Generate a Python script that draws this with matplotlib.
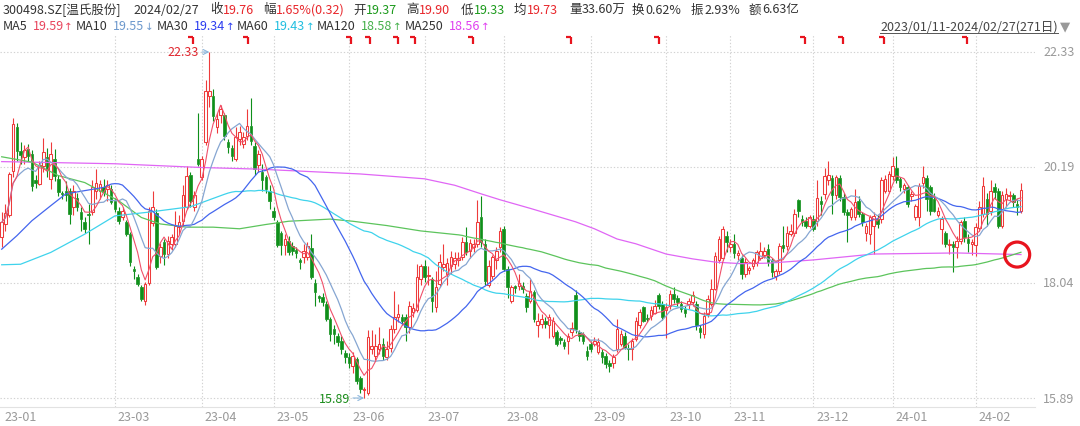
import numpy as np
import pandas as pd
import matplotlib
matplotlib.use("Agg")
import matplotlib.pyplot as plt
from matplotlib.patches import Rectangle, Ellipse
from matplotlib.lines import Line2D
from matplotlib.transforms import blended_transform_factory

plt.rcParams['font.family'] = ['Noto Sans CJK SC', 'DejaVu Sans']

# ---------------- data ----------------
opens = [18.88, 19.13, 19.30, 20.12, 20.93, 20.48, 20.38, 20.52, 20.43, 19.95,
         19.87, 20.21, 20.38, 19.97, 20.34, 19.97, 19.70, 19.75, 19.75, 19.44,
         19.62, 19.35, 19.16, 19.32, 19.35, 19.75, 19.75, 19.82, 19.78, 19.78,
         19.56, 19.38, 19.25, 19.16, 18.94, 18.30, 18.14, 17.96, 17.69, 18.04,
         19.15, 19.33, 18.54, 18.80, 18.57, 18.76, 18.76, 19.08, 19.19, 19.44,
         20.04, 19.44, 20.34, 20.00, 20.65, 21.52, 21.52, 20.94, 21.15, 21.15,
         20.65, 20.55, 20.34, 20.71, 20.62, 20.77, 20.96, 20.58, 20.22, 20.09,
         20.00, 19.75, 19.38, 19.16, 18.97, 18.73, 18.82, 18.72, 18.64, 18.46,
         18.51, 18.51, 18.69, 18.04, 17.79, 17.77, 17.64, 17.36, 17.18, 17.05,
         16.96, 16.72, 16.65, 16.49, 16.61, 16.27, 16.04, 15.99, 16.80, 16.68,
         16.80, 16.90, 16.65, 16.83, 17.18, 17.39, 17.39, 17.39, 17.21, 17.49,
         17.52, 18.11, 18.35, 18.16, 18.10, 17.58, 18.01, 18.32, 18.20, 18.35,
         18.38, 18.45, 18.52, 18.79, 18.62, 18.70, 18.75, 19.25, 18.76, 18.00,
         18.17, 18.45, 18.70, 19.04, 18.29, 17.70, 17.97, 17.98, 17.98, 17.79,
         17.70, 17.86, 17.24, 17.27, 17.33, 17.24, 17.05, 17.11, 17.00, 16.93,
         16.96, 17.11, 17.80, 17.11, 17.08, 16.77, 16.89, 16.90, 16.74, 16.74,
         16.68, 16.55, 16.55, 16.80, 16.90, 17.05, 16.83, 16.80, 16.99, 17.24,
         17.58, 17.38, 17.42, 17.48, 17.80, 17.64, 17.52, 17.61, 17.83, 17.76,
         17.64, 17.55, 17.64, 17.67, 17.64, 17.20, 17.08, 17.45, 17.64, 17.92,
         18.45, 18.50, 18.91, 18.70, 18.76, 18.56, 18.50, 18.20, 18.28, 18.35,
         18.40, 18.50, 18.55, 18.66, 18.45, 18.17, 18.26, 18.73, 18.72, 18.95,
         18.97, 19.58, 19.22, 19.19, 19.10, 19.22, 19.19, 19.56, 19.69, 19.94,
         19.99, 19.66, 19.99, 19.63, 19.35, 19.25, 19.25, 19.56, 19.31, 18.97,
         18.94, 19.10, 19.22, 19.22, 19.75, 19.75, 20.03, 20.18, 19.97, 19.78,
         19.81, 19.65, 19.25, 19.25, 19.90, 19.99, 19.81, 19.60, 19.30, 19.04,
         18.97, 18.74, 18.76, 18.70, 18.82, 19.19, 18.85, 18.76, 18.73, 19.05,
         19.31, 19.60, 19.38, 19.82, 19.75, 19.10, 19.60, 19.65, 19.66, 19.50, 19.37]

highs = [19.35, 19.50, 20.10, 21.10, 21.00, 20.65, 20.60, 20.62, 20.50, 20.05,
         20.30, 20.73, 20.55, 20.65, 20.52, 20.05, 19.75, 19.93, 19.80, 19.85,
         19.70, 19.45, 19.25, 19.50, 19.95, 20.15, 19.95, 19.97, 19.95, 19.85,
         19.62, 19.45, 19.45, 19.20, 18.98, 18.35, 18.20, 18.00, 18.05, 19.44,
         19.75, 19.40, 18.78, 18.85, 18.90, 18.95, 19.38, 19.30, 19.85, 20.21,
         20.10, 19.75, 21.20, 20.40, 21.80, 22.33, 21.65, 21.20, 21.35, 21.20,
         20.72, 20.60, 20.93, 20.95, 20.85, 21.27, 21.48, 20.65, 20.50, 20.25,
         20.05, 19.85, 19.45, 19.20, 19.00, 18.95, 18.90, 18.80, 18.70, 18.50,
         18.75, 18.80, 18.95, 18.10, 17.80, 17.85, 17.70, 17.40, 17.25, 17.10,
         17.05, 16.78, 16.72, 16.75, 16.65, 16.30, 16.10, 17.15, 17.15, 17.08,
         17.22, 17.00, 16.96, 17.25, 17.89, 17.64, 17.45, 17.45, 17.70, 17.65,
         18.39, 18.39, 18.45, 18.35, 18.15, 18.25, 18.57, 18.76, 18.50, 18.63,
         18.60, 18.60, 18.88, 19.07, 18.85, 18.85, 19.57, 19.65, 18.85, 18.45,
         18.55, 18.70, 19.08, 19.10, 18.35, 18.00, 18.00, 18.20, 18.05, 17.85,
         18.10, 17.90, 17.48, 17.45, 17.40, 17.45, 17.40, 17.15, 17.05, 16.98,
         17.10, 17.30, 17.90, 17.15, 17.12, 16.85, 16.95, 17.02, 17.00, 16.80,
         16.72, 16.60, 16.70, 17.36, 17.15, 17.12, 16.90, 17.00, 17.40, 17.55,
         17.60, 17.45, 17.60, 17.72, 17.85, 17.70, 17.65, 17.90, 17.95, 17.80,
         17.70, 17.60, 17.75, 17.88, 17.70, 17.25, 17.50, 17.80, 18.10, 18.60,
         18.90, 19.10, 19.00, 18.85, 18.95, 18.65, 18.55, 18.50, 18.35, 18.50,
         18.65, 18.80, 18.70, 18.75, 18.50, 18.30, 18.78, 19.10, 19.10, 19.13,
         19.40, 19.60, 19.30, 19.25, 19.30, 19.30, 19.94, 19.65, 20.17, 20.30,
         20.05, 20.05, 20.05, 19.70, 19.40, 19.45, 19.78, 19.65, 19.35, 19.15,
         19.30, 19.35, 19.30, 20.00, 20.05, 20.12, 20.38, 20.40, 20.00, 19.90,
         19.85, 19.75, 19.50, 19.90, 20.20, 20.05, 19.85, 19.70, 19.45, 19.28,
         19.00, 18.85, 18.82, 18.90, 19.20, 19.25, 18.95, 18.85, 19.15, 19.55,
         20.00, 19.70, 19.94, 19.90, 19.80, 19.75, 19.80, 19.75, 19.70, 19.60, 19.90]

lows = [18.70, 19.00, 19.25, 20.00, 20.30, 20.25, 20.25, 20.30, 19.75, 19.80,
        19.85, 20.10, 20.00, 19.78, 19.93, 19.65, 19.60, 19.56, 19.13, 19.30,
        19.38, 19.00, 18.97, 18.75, 19.30, 19.60, 19.60, 19.65, 19.55, 19.50,
        19.35, 19.12, 19.20, 18.90, 18.35, 18.10, 17.98, 17.70, 17.63, 18.00,
        19.10, 18.30, 18.40, 18.37, 18.50, 18.65, 18.70, 18.95, 19.10, 19.40,
        19.45, 19.38, 20.20, 19.95, 20.60, 21.30, 21.05, 20.83, 21.00, 20.70,
        20.45, 20.30, 20.30, 20.60, 20.55, 20.70, 20.60, 20.05, 20.10, 19.75,
        19.70, 19.40, 19.20, 18.70, 18.55, 18.55, 18.55, 18.55, 18.50, 18.30,
        18.40, 18.45, 18.10, 17.60, 17.68, 17.60, 17.33, 16.95, 16.90, 16.85,
        16.70, 16.55, 16.45, 16.35, 16.15, 15.98, 15.89, 15.95, 16.70, 16.60,
        16.70, 16.60, 16.60, 16.75, 17.10, 17.30, 17.25, 16.95, 17.10, 17.40,
        17.50, 18.00, 18.05, 18.00, 17.50, 17.50, 17.95, 18.25, 18.00, 18.20,
        18.30, 18.35, 18.45, 18.55, 18.50, 18.60, 18.70, 18.70, 18.00, 17.95,
        18.10, 18.30, 18.60, 18.25, 17.75, 17.65, 17.85, 17.90, 17.85, 17.50,
        17.65, 17.30, 17.02, 17.20, 17.20, 17.00, 17.00, 16.85, 16.90, 16.80,
        16.70, 17.05, 17.10, 16.95, 16.90, 16.60, 16.75, 16.85, 16.70, 16.55,
        16.45, 16.38, 16.45, 16.75, 16.85, 16.80, 16.60, 16.60, 16.95, 17.20,
        17.30, 17.30, 17.35, 17.45, 17.55, 17.35, 17.00, 17.55, 17.65, 17.60,
        17.50, 17.40, 17.55, 17.60, 17.15, 17.00, 17.00, 17.40, 17.60, 17.90,
        18.40, 18.45, 18.60, 18.60, 18.50, 18.45, 18.10, 18.15, 18.20, 18.30,
        18.35, 18.45, 18.50, 18.35, 18.15, 18.08, 18.20, 18.60, 18.65, 18.90,
        18.90, 19.25, 19.10, 19.05, 19.05, 19.00, 19.10, 19.30, 19.60, 19.85,
        19.32, 19.60, 19.55, 19.30, 18.79, 19.20, 19.20, 19.25, 19.10, 18.82,
        18.75, 18.57, 19.05, 19.15, 19.70, 19.70, 19.95, 19.90, 19.75, 19.70,
        19.45, 19.55, 19.20, 19.10, 19.80, 19.38, 19.30, 19.35, 19.25, 18.76,
        18.70, 18.57, 18.23, 18.50, 18.75, 18.80, 18.60, 18.55, 18.54, 19.00,
        19.25, 19.10, 19.30, 19.60, 19.05, 19.05, 19.45, 19.55, 19.45, 19.30, 19.33]

closes = [19.16, 19.33, 20.06, 20.99, 20.49, 20.42, 20.50, 20.40, 19.84, 19.90,
          20.23, 20.46, 20.13, 20.43, 20.03, 19.72, 19.68, 19.66, 19.31, 19.75,
          19.44, 19.22, 19.04, 19.29, 19.81, 19.90, 19.87, 19.72, 19.85, 19.53,
          19.41, 19.19, 19.38, 18.94, 18.42, 18.25, 18.02, 17.73, 18.02, 19.38,
          19.45, 18.32, 18.71, 18.57, 18.82, 18.89, 19.10, 19.17, 19.66, 20.03,
          19.56, 19.66, 20.25, 20.34, 21.61, 21.61, 21.13, 21.08, 21.27, 20.77,
          20.56, 20.40, 20.74, 20.84, 20.74, 20.96, 20.68, 20.15, 20.43, 19.94,
          19.78, 19.56, 19.25, 18.73, 18.73, 18.85, 18.60, 18.63, 18.58, 18.43,
          18.63, 18.72, 18.14, 17.86, 17.76, 17.67, 17.36, 17.08, 17.08, 16.93,
          16.80, 16.65, 16.55, 16.68, 16.21, 16.06, 16.06, 17.02, 16.85, 16.86,
          16.90, 16.68, 16.80, 17.18, 17.39, 17.46, 17.33, 17.21, 17.61, 17.57,
          18.14, 18.35, 18.14, 18.18, 17.70, 17.95, 18.42, 18.38, 18.41, 18.51,
          18.50, 18.50, 18.79, 18.60, 18.77, 18.75, 19.16, 18.79, 18.07, 18.35,
          18.51, 18.62, 19.00, 18.29, 17.95, 17.95, 17.93, 18.04, 17.92, 17.58,
          17.89, 17.36, 17.33, 17.36, 17.27, 17.39, 17.33, 16.90, 16.97, 16.86,
          17.05, 17.20, 17.17, 17.05, 16.96, 16.68, 16.80, 16.96, 16.93, 16.65,
          16.52, 16.49, 16.65, 17.17, 17.08, 16.83, 16.80, 16.96, 17.33, 17.49,
          17.33, 17.36, 17.52, 17.61, 17.61, 17.39, 17.58, 17.83, 17.73, 17.67,
          17.55, 17.48, 17.70, 17.80, 17.24, 17.11, 17.42, 17.73, 17.92, 18.54,
          18.85, 19.04, 18.79, 18.76, 18.58, 18.58, 18.20, 18.42, 18.30, 18.45,
          18.60, 18.63, 18.63, 18.42, 18.23, 18.26, 18.72, 18.69, 18.97, 19.00,
          19.31, 19.38, 19.16, 19.10, 19.25, 19.04, 19.61, 19.50, 20.02, 20.05,
          19.66, 20.00, 19.63, 19.35, 19.29, 19.41, 19.53, 19.31, 19.16, 19.10,
          19.25, 19.28, 19.13, 19.94, 19.97, 20.06, 20.21, 19.94, 19.81, 19.85,
          19.50, 19.68, 19.47, 19.84, 20.00, 19.60, 19.38, 19.38, 19.38, 19.22,
          18.76, 18.76, 18.70, 18.82, 19.16, 18.88, 18.78, 18.79, 19.07, 19.45,
          19.84, 19.31, 19.75, 19.72, 19.10, 19.66, 19.69, 19.66, 19.53, 19.44, 19.76]

# moving-average values before each window is full (they depend on earlier,
# unseen history) at sample days
ma30_head_idx = [0, 4, 8, 13, 17, 22, 27]
ma30_head_val = [18.66, 18.91, 19.19, 19.47, 19.69, 19.75, 19.81]
ma60_head_idx = [0, 5, 13, 22, 30, 39, 50]
ma60_head_val = [18.37, 18.38, 18.60, 18.94, 19.28, 19.35, 19.45]
ma120_head_idx = [0, 8, 15, 22, 31, 37, 42, 49, 56, 63, 70, 76, 87, 93, 102, 111]
ma120_head_val = [20.38, 20.28, 20.03, 19.90, 19.56, 19.25, 19.13, 19.07, 19.07, 19.04,
                  19.12, 19.18, 19.22, 19.18, 19.10, 19.00]
ma250_idx = [0, 30, 53, 68, 95, 112, 120, 127, 132, 140, 152, 157, 163, 168, 176, 183,
             189, 196, 203, 215, 231, 253, 270]
ma250_val = [20.29, 20.25, 20.18, 20.15, 20.06, 19.97, 19.85, 19.69, 19.58, 19.42, 19.17,
             19.04, 18.85, 18.76, 18.57, 18.48, 18.42, 18.39, 18.40, 18.46, 18.57, 18.59, 18.56]

price_ticks = [22.33, 20.19, 18.04, 15.89]
month_idx = [0, 30, 53, 72, 92, 112, 133, 156, 176, 193, 215, 236, 258]
month_lbl = ['23-01', '23-03', '23-04', '23-05', '23-06', '23-07', '23-08', '23-09',
             '23-10', '23-11', '23-12', '24-01', '24-02']
event_idx = [50.7, 65.2, 92.5, 97.6, 105, 109.5, 124.9, 150.8, 174.1, 212.8, 222.9, 233.7, 255.7]

# ---------------- layout ----------------
W, H = 1080, 427
fig = plt.figure(figsize=(W / 100, H / 100), dpi=100)
AX_L, AX_R, AX_T, AX_B = 0, 1035, 35, 408
ax = fig.add_axes([AX_L / W, 1 - AX_B / H, (AX_R - AX_L) / W, (AX_B - AX_T) / H])
PPU = 53.73
X0, DX = 1.7, 3.775
ax.set_xlim((AX_L - X0) / DX, (AX_R - X0) / DX)
ax.set_ylim(22.33 - (AX_B - 53) / PPU, 22.33 + (53 - AX_T) / PPU)
ax.axis('off')

RED = '#ee3b3b'
GREEN = '#0f8f1a'
GRID = '#d2d2d2'

for p in price_ticks:
    ax.axhline(p, color=GRID, lw=0.8, ls=(0, (1.2, 1.8)), zorder=0)
for m in month_idx[1:]:
    ax.axvline(m, color=GRID, lw=0.8, ls=(0, (1.2, 1.8)), zorder=0)
fig.add_artist(Line2D([0, AX_R / W], [1 - AX_B / H] * 2, color='#e2e2e2', lw=0.8))

# ---------------- candles ----------------
n = len(closes)
idx = np.arange(n)
bw = 0.68
for i in range(n):
    o, h, l, c = opens[i], highs[i], lows[i], closes[i]
    up = c >= o
    col = RED if up else GREEN
    lo_b, hi_b = min(o, c), max(o, c)
    ax.vlines(i, l, lo_b, color=col, lw=0.8, zorder=2)
    ax.vlines(i, hi_b, h, color=col, lw=0.8, zorder=2)
    hgt = max(hi_b - lo_b, 0.025)
    if up:
        ax.add_patch(Rectangle((i - bw / 2, lo_b), bw, hgt, facecolor='white',
                               edgecolor=col, lw=0.75, zorder=3))
    else:
        ax.add_patch(Rectangle((i - bw / 2, lo_b), bw, hgt, facecolor=col,
                               edgecolor=col, lw=0.5, zorder=3))

# ---------------- moving averages ----------------
cs = pd.Series(closes)
ma5 = cs.rolling(5, min_periods=1).mean()
ma10 = cs.rolling(10, min_periods=1).mean()


def ma_line(head_idx, head_val, win):
    full = cs.rolling(win).mean()
    xs = list(head_idx) + list(range(win - 1, n))
    ys = list(head_val) + list(full.iloc[win - 1:])
    return xs, ys


ax.plot(ma250_idx, ma250_val, color='#e066f5', lw=0.9, zorder=4)
ax.plot(*ma_line(ma120_head_idx, ma120_head_val, 120), color='#5cc45c', lw=0.9, zorder=4)
ax.plot(*ma_line(ma60_head_idx, ma60_head_val, 60), color='#3fd3ec', lw=0.9, zorder=4)
ax.plot(*ma_line(ma30_head_idx, ma30_head_val, 30), color='#4466ee', lw=0.9, zorder=4)
ax.plot(idx, ma10, color='#86a6d2', lw=0.9, zorder=4)
ax.plot(idx, ma5, color='#f0506a', lw=0.8, zorder=4)

# ---------------- high / low annotations ----------------
hi_i = int(np.argmax(highs))
lo_i = int(np.argmin(lows))
ax.annotate(f'{highs[hi_i]:.2f}', xy=(hi_i, highs[hi_i]), xytext=(-10, 0),
            textcoords='offset pixels', ha='right', va='center', color='#e0262e',
            fontsize=9, arrowprops=dict(arrowstyle='->', color='#8cb6dc', lw=0.8,
                                        shrinkA=0, shrinkB=0), zorder=6)
ax.annotate(f'{lows[lo_i]:.2f}', xy=(lo_i, lows[lo_i]), xytext=(-14, 0),
            textcoords='offset pixels', ha='right', va='center', color='#1a8c1a',
            fontsize=9, arrowprops=dict(arrowstyle='->', color='#8cb6dc', lw=0.8,
                                        shrinkA=0, shrinkB=0), zorder=6)

# red circle at the end of MA250 / MA120
ax.add_patch(Ellipse((n - 2.0, ma250_val[-1]), 2 * 12.5 / DX, 2 * 12.5 / PPU,
                     facecolor='none', edgecolor='#e8141e', lw=2.3, zorder=7, clip_on=False))

# event markers along the top
trans_top = blended_transform_factory(ax.transData, ax.transAxes)
ytop = 1 - (38 - AX_T) / (AX_B - AX_T)
ybot = 1 - (45 - AX_T) / (AX_B - AX_T)
for e in event_idx:
    ax.plot([e - 1.3, e], [ytop, ytop], color='#e8141e', lw=1.6, transform=trans_top,
            solid_capstyle='butt', clip_on=False, zorder=6)
    ax.plot([e, e], [ytop, ybot], color='#e8141e', lw=1.6, transform=trans_top,
            solid_capstyle='butt', clip_on=False, zorder=6)

# ---------------- axis labels ----------------
trans_r = blended_transform_factory(ax.transAxes, ax.transData)
for p in price_ticks:
    ax.text((1043 - AX_L) / (AX_R - AX_L), p, f'{p:.2f}', transform=trans_r, ha='left',
            va='center', color='#999999', fontsize=9, clip_on=False)
ylab = -(418 - AX_B) / (AX_B - AX_T)
for m, lb in zip(month_idx, month_lbl):
    ax.text(m + 0.8, ylab, lb, transform=trans_top, ha='left', va='center',
            color='#999999', fontsize=9, clip_on=False)

# ---------------- header ----------------
FS = 9
renderer = fig.canvas.get_renderer()


def ftext(xp, yp, s, color, size=FS, **kw):
    return fig.text(xp / W, 1 - yp / H, s, color=color, fontsize=size, ha='left',
                    va='center', **kw)


def right_edge(t):
    return t.get_window_extent(renderer).x1


def with_arrow(xp, yp, s, arrow, color):
    t = ftext(xp, yp, s, color)
    fig.text((right_edge(t) + 0.5) / W, 1 - yp / H, arrow, color=color, fontsize=7.5,
             ha='left', va='center', family=['DejaVu Sans'])


DARK = '#333333'
HRED = '#e8262b'
HGRN = '#1c9a1c'
ftext(3, 10, '300498.SZ[温氏股份]', DARK)
ftext(133, 10, '2024/02/27', DARK)
row1 = [(210, '收', '19.76', HRED), (263, '幅', '1.65%(0.32)', HRED),
        (353, '开', '19.37', HGRN), (406, '高', '19.90', HRED),
        (461, '低', '19.33', HGRN), (514, '均', '19.73', HRED),
        (569, '量', '33.60万', DARK), (632, '换', '0.62%', DARK),
        (691, '振', '2.93%', DARK), (749, '额', '6.63亿', DARK)]
for xp, lbl, val, c in row1:
    t = ftext(xp, 10, lbl, DARK)
    ftext(right_edge(t) + 0.5, 10, val, c)

row2 = [(3, 'MA5', '19.59', '↑', '#e8445c'), (76, 'MA10', '19.55', '↓', '#6c98cc'),
        (157, 'MA30', '19.34', '↑', '#2b3cf0'), (237, 'MA60', '19.43', '↑', '#22bfe0'),
        (317, 'MA120', '18.58', '↑', '#44b04a'), (405, 'MA250', '18.56', '↑', '#e040f0')]
for xp, lbl, val, a, c in row2:
    t = ftext(xp, 27, lbl, DARK)
    with_arrow(right_edge(t) + 5, 27, val, a, c)

t = ftext(880, 27, '2023/01/11-2024/02/27(271日)', '#444444')
x1 = right_edge(t)
fig.add_artist(Line2D([880 / W, x1 / W], [1 - 34 / H] * 2, color='#555555', lw=0.7))
ftext(x1 + 2, 27, '▼', '#999999', size=9.5, family=['DejaVu Sans'])

fig.savefig('out.png', dpi=100)
